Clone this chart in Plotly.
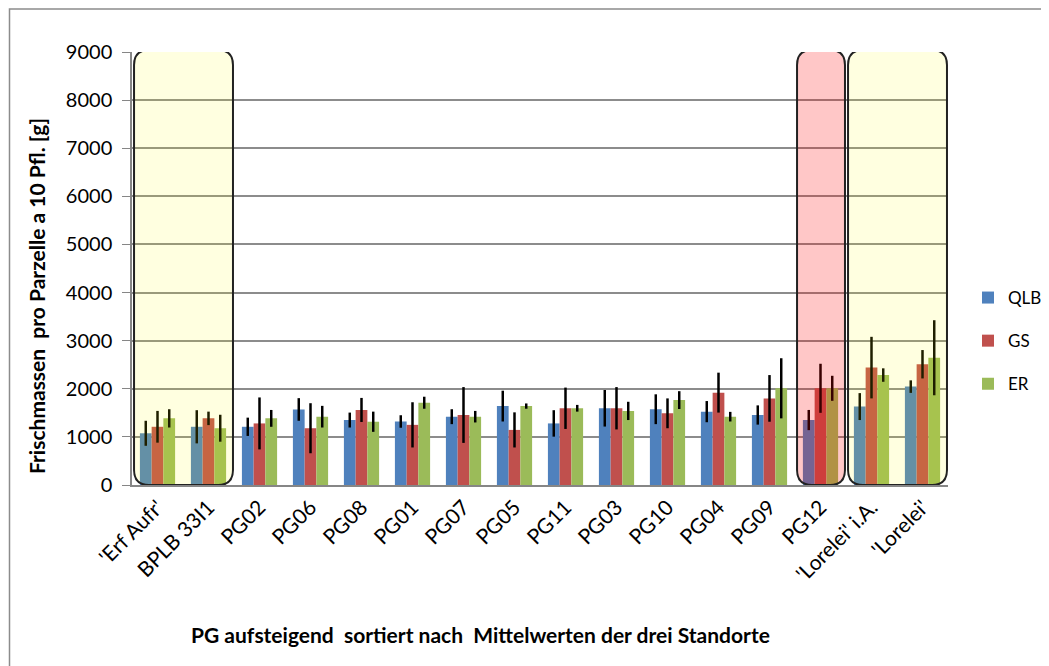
import plotly.graph_objects as go

# Sorten / Prüfglieder
kategorien = ["'Erf Aufr'", "BPLB 33I1", "PG02", "PG06", "PG08", "PG01", "PG07", "PG05",
              "PG11", "PG03", "PG10", "PG04", "PG09", "PG12", "'Lorelei' i.A.", "'Lorelei'"]

# Mittelwerte je Standort [g]
qlb = [1075, 1210, 1210, 1570, 1350, 1320, 1420, 1640, 1280, 1595, 1575, 1525, 1455, 1350, 1630, 2045]
gs = [1210, 1385, 1280, 1180, 1560, 1250, 1455, 1145, 1595, 1595, 1490, 1920, 1800, 2010, 2440, 2510]
er = [1385, 1180, 1385, 1420, 1315, 1710, 1420, 1640, 1595, 1540, 1765, 1420, 2010, 2010, 2285, 2645]

# Standardabweichungen
qlb_err = [260, 345, 190, 235, 155, 130, 155, 320, 275, 380, 310, 220, 200, 210, 280, 130]
gs_err = [330, 140, 540, 520, 250, 470, 580, 365, 430, 440, 310, 415, 485, 510, 640, 295]
er_err = [190, 280, 175, 225, 210, 125, 120, 55, 70, 190, 185, 100, 625, 260, 140, 780]

# hervorgehobene Bereiche (erste/letzte Kategorie, Füllfarbe)
markierungen = [
    (0, 1, "rgba(255,255,0,0.12)"),
    (13, 13, "rgba(255,0,0,0.22)"),
    (14, 15, "rgba(255,255,0,0.12)"),
]

# Plotbereich in Pixeln (Seite hat 8px Body-Rand, daher verschoben)
PL, PT, PW, PH = 132, 52, 816, 433
OFF = 8
W, H = 1049 - OFF, 666 - OFF

x = list(range(len(kategorien)))
fig = go.Figure()
for name, vals, errs, col in [("QLB", qlb, qlb_err, "#4F81BD"),
                              ("GS", gs, gs_err, "#C0504D"),
                              ("ER", er, er_err, "#9BBB59")]:
    fig.add_trace(go.Bar(
        x=x, y=vals, name=name, legendgroup=name,
        marker=dict(color=col, line=dict(width=0)),
        error_y=dict(type="data", array=errs, visible=True, color="black",
                     thickness=2.5, width=0),
    ))

# abgerundete Rahmen
rx, ry = 0.29, 310
for i, j, fill in markierungen:
    x0, x1 = i - 0.46, j + 0.48
    y0, y1 = 0, 9040
    path = (f"M {x0+rx},{y0} L {x1-rx},{y0} Q {x1},{y0} {x1},{y0+ry} "
            f"L {x1},{y1-ry} Q {x1},{y1} {x1-rx},{y1} L {x0+rx},{y1} "
            f"Q {x0},{y1} {x0},{y1-ry} L {x0},{y0+ry} Q {x0},{y0} {x0+rx},{y0} Z")
    fig.add_shape(type="path", path=path, xref="x", yref="y", layer="above",
                  fillcolor=fill, line=dict(color="#222222", width=2))


def px_x(p):
    return (p - PL) / PW


def px_y(p):
    return (PT + PH - p) / PH


# äußerer Rahmen
fig.add_shape(type="rect", xref="paper", yref="paper", x0=px_x(OFF + 1.5), x1=px_x(1100),
              y0=-0.6, y1=px_y(9),
              line=dict(color="#8c8c8c", width=1.5), layer="below")

fig.add_annotation(text="<b>PG aufsteigend  sortiert nach  Mittelwerten der drei Standorte</b>",
                   xref="paper", yref="paper", x=px_x(480), y=px_y(634),
                   xanchor="center", yanchor="middle",
                   showarrow=False, font=dict(size=21, color="black"))
fig.add_annotation(text="<b>Frischmassen  pro Parzelle a 10 Pfl. [g]</b>", textangle=-90,
                   xref="paper", yref="paper", x=px_x(36), y=px_y(296),
                   xanchor="center", yanchor="middle",
                   showarrow=False, font=dict(size=21, color="black"))

fig.update_layout(
    width=W, height=H,
    margin=dict(l=PL - OFF, r=W - PW - PL + OFF, t=PT - OFF, b=H - PH - PT + OFF,
                autoexpand=False),
    paper_bgcolor="white", plot_bgcolor="white",
    font=dict(family="Lato, 'Open Sans', sans-serif", color="black"),
    barmode="group", bargap=0.31, bargroupgap=0,
    showlegend=True,
    legend=dict(x=px_x(968), y=px_y(341), yanchor="middle", xanchor="left",
                font=dict(size=17), tracegroupgap=18, itemwidth=30),
    xaxis=dict(tickmode="array", tickvals=x, ticktext=kategorien, tickangle=-45,
               range=[-0.5, len(kategorien) - 0.5], showgrid=False, zeroline=False,
               showline=True, linecolor="#868686", linewidth=1.5,
               tickfont=dict(size=21), ticks="", automargin=False),
    yaxis=dict(range=[0, 9000], dtick=1000, showgrid=True, gridcolor="#8c8c8c", gridwidth=1.5,
               zeroline=False, showline=True, linecolor="#868686", linewidth=1.5,
               ticks="outside", ticklen=8, tickcolor="#868686", ticklabelstandoff=6,
               tickfont=dict(size=20), automargin=False),
)

fig.write_html("out.html")
